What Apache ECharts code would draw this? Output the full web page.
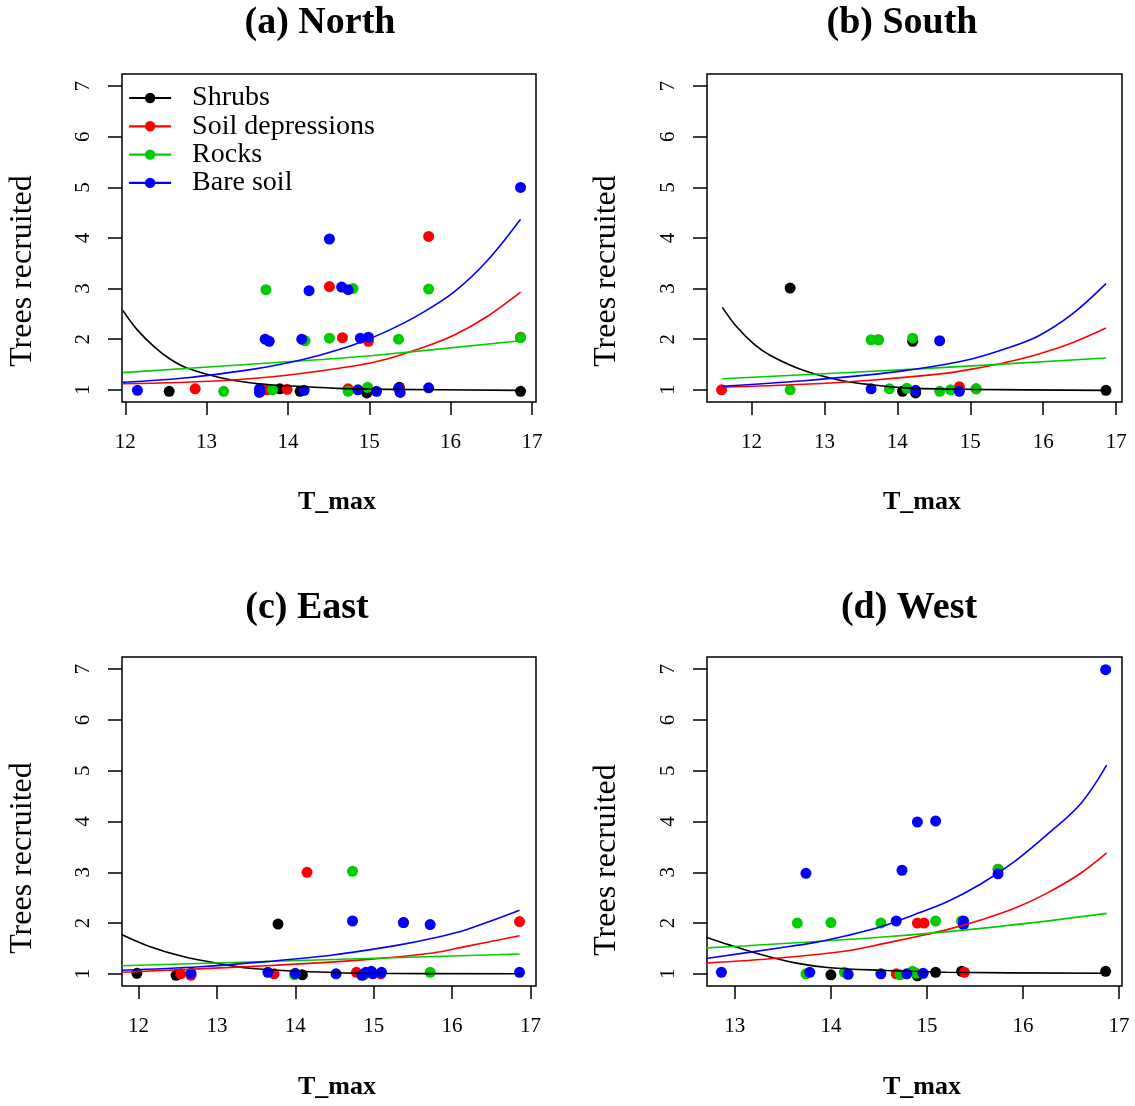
<!DOCTYPE html>
<html>
<head>
<meta charset="utf-8">
<title>Trees recruited vs T_max</title>
<script src="https://cdn.jsdelivr.net/npm/echarts@6/dist/echarts.min.js"></script>
<style>
  html, body { margin: 0; padding: 0; background: #fff; }
  #chart { width: 1135px; height: 1106px; }
</style>
</head>
<body>
<div id="chart"></div>
<script>
const groups = ['Shrubs', 'Soil depressions', 'Rocks', 'Bare soil']
const colors = ['#000000', '#ff0000', '#00cd00', '#0000ff']
const xTicks = [12, 13, 14, 15, 16, 17]
const xTicksWest = [13, 14, 15, 16, 17]
const yTicks = [1, 2, 3, 4, 5, 6, 7]

// (a) North - observations [T_max, trees]
const nShrub = [[12.54, 0.97], [13.90, 1.02], [14.15, 0.97], [14.97, 0.94], [15.37, 1.05], [16.86, 0.97]]
const nSoil = [[12.86, 1.02], [13.66, 1.02], [13.74, 1.0], [13.99, 1.01], [14.51, 3.04], [14.67, 2.03], [14.74, 1.02], [14.99, 1.96], [15.37, 1.03], [15.73, 4.03], [16.86, 2.04]]
const nRock = [[13.21, 0.97], [13.73, 2.98], [13.81, 1.0], [14.21, 1.97], [14.51, 2.02], [14.74, 0.97], [14.80, 3.0], [14.98, 1.05], [15.36, 2.0], [15.73, 2.99], [16.86, 2.03]]
const nBare = [[12.15, 0.99], [13.65, 1.02], [13.65, 0.95], [13.72, 2.0], [13.77, 1.96], [14.17, 2.0], [14.20, 0.99], [14.26, 2.96], [14.51, 3.98], [14.66, 3.03], [14.74, 2.98], [14.86, 1.0], [14.89, 2.02], [14.99, 2.04], [15.09, 0.97], [15.36, 1.03], [15.38, 0.95], [15.73, 1.04], [16.86, 5.0]]
// (a) North - fitted curves
const nShrubFit = [[11.97, 2.57], [12.14, 2.20], [12.35, 1.86], [12.55, 1.61], [12.76, 1.43], [13.17, 1.24], [13.58, 1.13], [13.99, 1.08], [14.60, 1.03], [15.22, 1.01], [16.86, 0.99]]
const nSoilFit = [[11.97, 1.12], [13.17, 1.18], [13.99, 1.29], [14.81, 1.47], [15.22, 1.61], [15.63, 1.82], [16.04, 2.08], [16.45, 2.45], [16.86, 2.93]]
const nRockFit = [[11.97, 1.34], [14.23, 1.58], [15.05, 1.68], [16.86, 1.97]]
const nBareFit = [[11.97, 1.15], [12.76, 1.24], [13.58, 1.41], [13.99, 1.53], [14.40, 1.69], [14.81, 1.89], [15.22, 2.16], [15.63, 2.50], [16.04, 2.93], [16.45, 3.55], [16.86, 4.37]]

// (b) South
const sShrub = [[12.53, 3.01], [14.07, 0.97], [14.21, 1.96], [14.25, 0.94], [16.86, 0.99]]
const sSoil = [[11.59, 1.0], [13.74, 1.99], [14.85, 1.06], [15.08, 1.02]]
const sRock = [[12.53, 1.0], [13.64, 1.99], [13.74, 1.99], [13.89, 1.02], [14.13, 1.03], [14.21, 2.02], [14.58, 0.97], [14.73, 1.0], [15.08, 1.02]]
const sBare = [[13.64, 1.02], [14.25, 0.99], [14.58, 1.97], [14.85, 0.97]]
const sShrubFit = [[11.60, 2.63], [11.80, 2.24], [12.03, 1.91], [12.26, 1.68], [12.72, 1.38], [13.18, 1.20], [13.64, 1.10], [14.10, 1.04], [15.02, 1.01], [16.86, 0.99]]
const sSoilFit = [[11.60, 1.05], [12.72, 1.11], [13.64, 1.19], [14.56, 1.31], [15.02, 1.41], [15.48, 1.54], [15.94, 1.71], [16.40, 1.93], [16.86, 2.22]]
const sRockFit = [[11.60, 1.22], [14.23, 1.41], [16.86, 1.63]]
const sBareFit = [[11.60, 1.07], [12.72, 1.18], [13.64, 1.30], [14.10, 1.38], [14.56, 1.48], [15.02, 1.61], [15.48, 1.81], [15.94, 2.07], [16.40, 2.50], [16.86, 3.10]]

// (c) East
const eShrub = [[11.98, 1.01], [12.48, 0.97], [13.78, 1.98], [14.09, 0.98]]
const eSoil = [[12.54, 1.0], [12.67, 0.97], [13.73, 1.0], [14.15, 3.0], [14.78, 1.03], [15.09, 1.0], [15.38, 2.01], [16.86, 2.03]]
const eRock = [[13.99, 0.98], [14.73, 3.02], [14.88, 0.98], [15.72, 1.03]]
const eBare = [[12.67, 1.01], [13.65, 1.03], [14.0, 1.01], [14.52, 1.0], [14.73, 2.04], [14.85, 0.97], [14.90, 1.03], [14.97, 1.05], [14.99, 1.0], [15.10, 1.03], [15.38, 2.01], [15.72, 1.97], [16.86, 1.03]]
const eShrubFit = [[11.79, 1.77], [12.14, 1.54], [12.57, 1.34], [12.99, 1.21], [13.42, 1.11], [14.05, 1.05], [14.90, 1.01], [16.86, 1.0]]
const eSoilFit = [[11.79, 1.03], [13.63, 1.16], [14.90, 1.28], [15.75, 1.41], [16.18, 1.54], [16.86, 1.75]]
const eRockFit = [[11.79, 1.16], [16.86, 1.39]]
const eBareFit = [[11.79, 1.07], [12.78, 1.14], [13.63, 1.24], [14.48, 1.37], [15.33, 1.57], [15.75, 1.70], [16.18, 1.87], [16.86, 2.25]]

// (d) West
const wShrub = [[14.0, 0.98], [14.90, 0.96], [15.09, 1.03], [15.36, 1.05], [16.86, 1.05]]
const wSoil = [[14.68, 1.0], [14.90, 2.0], [14.97, 2.0], [15.39, 1.03], [15.74, 3.06]]
const wRock = [[13.65, 2.0], [13.74, 1.0], [14.0, 2.01], [14.14, 1.03], [14.52, 2.0], [14.72, 0.98], [14.85, 1.05], [14.89, 1.01], [15.09, 2.04], [15.36, 2.04], [15.74, 3.06]]
const wBare = [[12.86, 1.03], [13.74, 2.98], [13.78, 1.03], [14.18, 0.99], [14.52, 1.0], [14.68, 2.04], [14.74, 3.04], [14.79, 1.0], [14.90, 3.99], [14.96, 1.01], [15.09, 4.01], [15.38, 2.04], [15.38, 1.97], [15.74, 2.97], [16.86, 6.99]]
const wShrubFit = [[12.70, 1.72], [12.94, 1.57], [13.29, 1.37], [13.64, 1.21], [13.99, 1.12], [14.51, 1.07], [15.21, 1.03], [16.87, 1.01]]
const wSoilFit = [[12.70, 1.21], [13.46, 1.31], [14.16, 1.45], [14.51, 1.58], [14.86, 1.72], [15.21, 1.87], [15.56, 2.06], [15.91, 2.29], [16.25, 2.59], [16.60, 2.98], [16.87, 3.38]]
const wRockFit = [[12.70, 1.51], [14.51, 1.72], [15.74, 1.93], [16.87, 2.19]]
const wBareFit = [[12.70, 1.30], [13.46, 1.51], [13.81, 1.61], [14.16, 1.75], [14.51, 1.92], [14.86, 2.16], [15.21, 2.42], [15.56, 2.77], [15.91, 3.21], [16.25, 3.74], [16.60, 4.35], [16.87, 5.11]]

const panels = [
    { title: '(a) North', pts: [nShrub, nSoil, nRock, nBare], fits: [nShrubFit, nSoilFit, nRockFit, nBareFit], xMin: 11.96, xMax: 17.05, ticks: xTicks },
    { title: '(b) South', pts: [sShrub, sSoil, sRock, sBare], fits: [sShrubFit, sSoilFit, sRockFit, sBareFit], xMin: 11.39, xMax: 17.08, ticks: xTicks },
    { title: '(c) East', pts: [eShrub, eSoil, eRock, eBare], fits: [eShrubFit, eSoilFit, eRockFit, eBareFit], xMin: 11.79, xMax: 17.07, ticks: xTicks },
    { title: '(d) West', pts: [wShrub, wSoil, wRock, wBare], fits: [wShrubFit, wSoilFit, wRockFit, wBareFit], xMin: 12.71, xMax: 17.03, ticks: xTicksWest }
]

// layout of each panel: plot box and text anchors
const layout = [
    { left: 122, top: 74, width: 414, height: 328, titleX: 320, titleY: 4, ylabX: 23, ylabY: 271, xlabX: 337, xlabY: 502 },
    { left: 707, top: 74, width: 415, height: 328, titleX: 902, titleY: 4, ylabX: 607, ylabY: 271, xlabX: 922, xlabY: 502 },
    { left: 122, top: 657, width: 414, height: 329, titleX: 307, titleY: 589, ylabX: 23, ylabY: 858, xlabX: 337, xlabY: 1087 },
    { left: 707, top: 657, width: 415, height: 329, titleX: 909, titleY: 589, ylabX: 607, ylabY: 860, xlabX: 922, xlabY: 1087 }
]

const serif = '"Liberation Serif", "DejaVu Serif", serif'
const yMin = 0.76, yMax = 7.24

const grids = [], xAxes = [], yAxes = [], titles = [], texts = []
const lineSeries = [], pointSeries = []

panels.forEach((p, i) => {
    const l = layout[i]
    grids.push({
        left: l.left, top: l.top, width: l.width, height: l.height,
        show: true, borderColor: '#000', borderWidth: 1.5, backgroundColor: 'transparent'
    })
    xAxes.push({
        gridIndex: i, type: 'value', min: p.xMin, max: p.xMax,
        axisLine: { show: false, onZero: false },
        axisTick: { show: true, length: 13, lineStyle: { color: '#000', width: 1.5 }, customValues: p.ticks },
        axisLabel: { customValues: p.ticks, margin: 30, color: '#000', fontSize: 21, fontFamily: serif },
        splitLine: { show: false }
    })
    yAxes.push({
        gridIndex: i, type: 'value', min: yMin, max: yMax,
        axisLine: { show: false, onZero: false },
        axisTick: { show: true, length: 14, lineStyle: { color: '#000', width: 1.5 }, customValues: yTicks },
        axisLabel: { customValues: yTicks, rotate: 90, margin: 28, color: '#000', fontSize: 21, fontFamily: serif },
        splitLine: { show: false }
    })
    titles.push({
        text: p.title, left: l.titleX, top: l.titleY, textAlign: 'center', padding: 0,
        textStyle: { fontFamily: serif, fontWeight: 'bold', fontSize: 38, color: '#000' }
    })
    texts.push({
        type: 'text', x: l.ylabX, y: l.ylabY, rotation: Math.PI / 2,
        style: { text: 'Trees recruited', font: '32px ' + serif, fill: '#000', align: 'center', verticalAlign: 'middle' }
    })
    texts.push({
        type: 'text', x: l.xlabX, y: l.xlabY,
        style: { text: 'T_max', font: 'bold 26px ' + serif, fill: '#000', align: 'center', verticalAlign: 'middle' }
    })
    groups.forEach((g, k) => {
        // curves first so the legend takes its line + dot icon from them
        lineSeries.push({
            type: 'line', name: g, xAxisIndex: i, yAxisIndex: i,
            data: p.fits[k], symbol: 'circle', symbolSize: 10, showSymbol: false,
            smooth: 0.35, silent: true, z: 3,
            lineStyle: { color: colors[k], width: 1.6 },
            itemStyle: { color: colors[k] }
        })
        pointSeries.push({
            type: 'scatter', name: g, xAxisIndex: i, yAxisIndex: i,
            data: p.pts[k], symbolSize: 11, z: 2,
            itemStyle: { color: colors[k], opacity: 1 }
        })
    })
})

const option = {
    animation: false,
    backgroundColor: '#fff',
    title: titles,
    grid: grids,
    xAxis: xAxes,
    yAxis: yAxes,
    legend: {
        data: groups, orient: 'vertical', left: 128, top: 84, padding: 0,
        itemWidth: 42, itemHeight: 13, itemGap: 0.3, selectedMode: false,
        lineStyle: { width: 2.2 },
        textStyle: { fontFamily: serif, fontSize: 28, lineHeight: 28, color: '#000', padding: [0, 0, 0, 16] }
    },
    graphic: texts,
    series: lineSeries.concat(pointSeries)
}

const myChart = echarts.init(document.getElementById('chart'), null, { renderer: 'canvas' })
myChart.setOption(option)
</script>
</body>
</html>
